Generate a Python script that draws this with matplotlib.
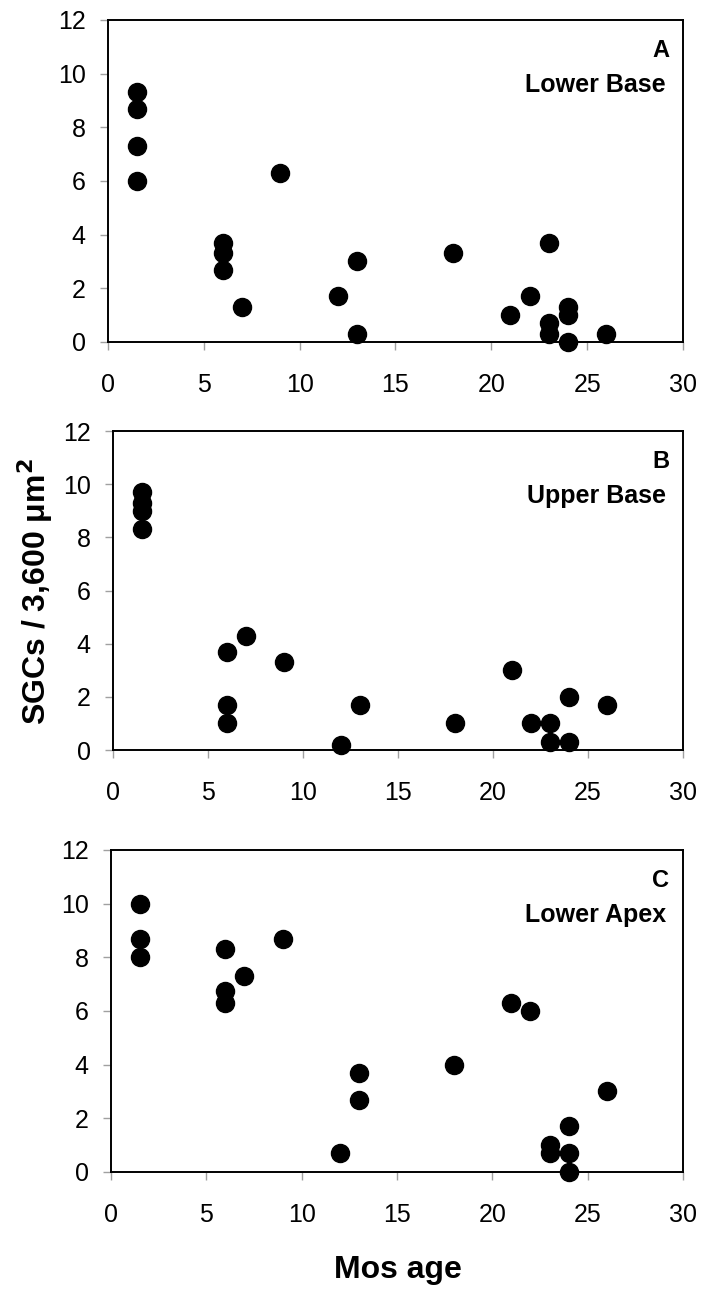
import matplotlib
matplotlib.use("Agg")
import matplotlib.pyplot as plt

# Panel A - Lower Base
a_age = [1.5, 1.5, 1.5, 1.5, 6, 6, 6, 7, 9, 12, 13, 13, 18, 21, 22, 23, 23, 23, 24, 24, 24, 26]
a_sgc = [9.3, 8.7, 7.3, 6.0, 3.7, 3.3, 2.7, 1.3, 6.3, 1.7, 3.0, 0.3, 3.3, 1.0, 1.7, 3.7, 0.7, 0.3, 1.3, 1.0, 0.0, 0.3]

# Panel B - Upper Base
b_age = [1.5, 1.5, 1.5, 1.5, 6, 6, 6, 7, 9, 12, 13, 18, 21, 22, 23, 23, 24, 24, 26]
b_sgc = [9.7, 9.3, 9.0, 8.3, 3.7, 1.7, 1.0, 4.3, 3.3, 0.2, 1.7, 1.0, 3.0, 1.0, 1.0, 0.3, 2.0, 0.3, 1.7]

# Panel C - Lower Apex
c_age = [1.5, 1.5, 1.5, 6, 6, 6, 7, 9, 12, 13, 13, 18, 21, 22, 23, 23, 24, 24, 24, 26]
c_sgc = [10.0, 8.7, 8.0, 8.3, 6.75, 6.3, 7.3, 8.7, 0.7, 3.7, 2.7, 4.0, 6.3, 6.0, 1.0, 0.7, 1.7, 0.7, 0.0, 3.0]

panel_letters = ["A", "B", "C"]
panel_names = ["Lower Base", "Upper Base", "Lower Apex"]
x_ticks = [0, 5, 10, 15, 20, 25, 30]
y_ticks = [0, 2, 4, 6, 8, 10, 12]

plt.rcParams["font.family"] = ["Liberation Sans", "DejaVu Sans"]

fig = plt.figure(figsize=(7.02, 12.89), dpi=100)

# axes boxes in figure fractions [left, bottom, width, height]
boxes = [
    [0.1538, 0.7347, 0.8191, 0.2498],
    [0.1610, 0.4181, 0.8119, 0.2475],
    [0.1581, 0.0908, 0.8148, 0.2498],
]
data = [(a_age, a_sgc), (b_age, b_sgc), (c_age, c_sgc)]

for box, (xs, ys), letter, name in zip(boxes, data, panel_letters, panel_names):
    ax = fig.add_axes(box)
    ax.plot(xs, ys, "o", color="black", markersize=13, clip_on=False, zorder=5)
    ax.set_xlim(0, 30)
    ax.set_ylim(0, 12)
    ax.set_xticks(x_ticks)
    ax.set_yticks(y_ticks)
    for sp in ax.spines.values():
        sp.set_linewidth(1.4)
        sp.set_color("black")
    ax.tick_params(axis="both", direction="out", length=6, width=1,
                   color="#a0a0a0", labelsize=18)
    ax.tick_params(axis="x", pad=16)
    ax.tick_params(axis="y", pad=10)
    ax.text(0.976, 0.905, letter, transform=ax.transAxes, ha="right",
            va="center", fontsize=17, fontweight="bold")
    ax.text(0.970, 0.797, name, transform=ax.transAxes, ha="right",
            va="center", fontsize=18, fontweight="bold")

fig.text(0.050, 1 - 592 / 1289, "SGCs / 3,600 \u03bcm$^\\mathbf{2}$", rotation=90,
         ha="center", va="center", fontsize=23, fontweight="bold")
fig.text(0.567, 1 - 1270 / 1289, "Mos age", ha="center", va="center",
         fontsize=23, fontweight="bold")

fig.savefig("out.png", dpi=100)
